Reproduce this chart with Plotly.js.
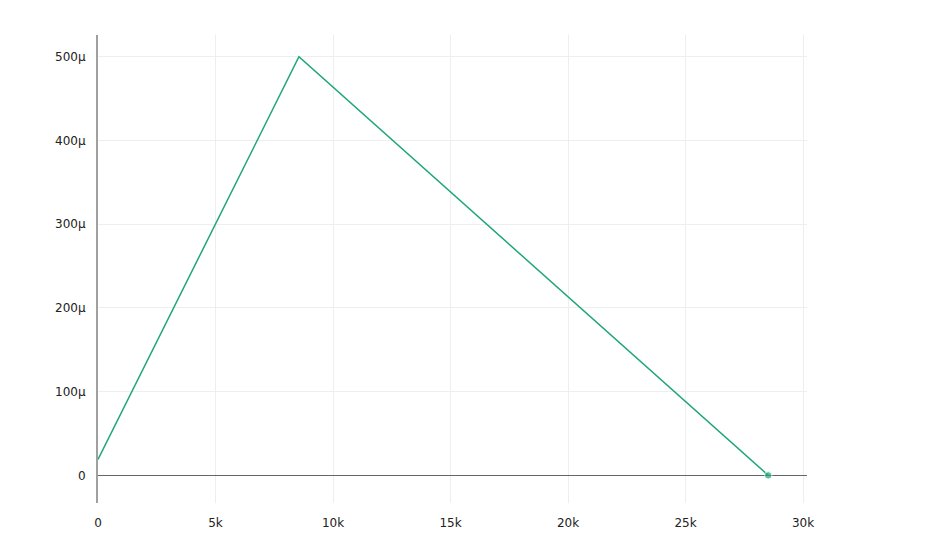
<!DOCTYPE html>
<html>
<head>
<meta charset="utf-8">
<script src="https://cdn.plot.ly/plotly-3.0.1.min.js"></script>
<style>html,body{margin:0;padding:0;background:#fff;}#chart{width:933px;height:556px;}</style>
</head>
<body>
<div id="chart"></div>
<script>
const xValues = [0, 8550, 28520];
const yValues = [0.000019, 0.0005, 0];
const markerSizes = [0, 0, 7.5];
const lineColor = '#1fa67a';

const trace = {
  x: xValues,
  y: yValues,
  type: 'scatter',
  mode: 'lines+markers',
  line: {color: lineColor, width: 1.5},
  marker: {color: lineColor, size: markerSizes},
  hoverinfo: 'none'
};

const layout = {
  width: 933,
  height: 556,
  margin: {l: 98, r: 126, t: 35, b: 53},
  paper_bgcolor: '#fff',
  plot_bgcolor: '#fff',
  showlegend: false,
  font: {family: 'DejaVu Sans, Verdana, sans-serif', size: 12, color: '#222'},
  xaxis: {
    range: [0, 30170],
    tickvals: [0, 5000, 10000, 15000, 20000, 25000, 30000],
    ticktext: ['0', '5k', '10k', '15k', '20k', '25k', '30k'],
    showgrid: true,
    gridcolor: '#eeeeee',
    zeroline: false,
    showline: false,
    ticks: '',
    ticklabelstandoff: 11
  },
  yaxis: {
    range: [-0.000033, 0.000526],
    tickvals: [0, 0.0001, 0.0002, 0.0003, 0.0004, 0.0005],
    ticktext: ['0', '100μ', '200μ', '300μ', '400μ', '500μ'],
    showgrid: true,
    gridcolor: '#eeeeee',
    zeroline: true,
    zerolinecolor: '#666666',
    zerolinewidth: 1.5,
    showline: true,
    linecolor: '#a0a0a0',
    linewidth: 2,
    ticks: '',
    ticklabelstandoff: 8
  }
};

Plotly.newPlot('chart', [trace], layout, {displayModeBar: false, staticPlot: true});
</script>
</body>
</html>
